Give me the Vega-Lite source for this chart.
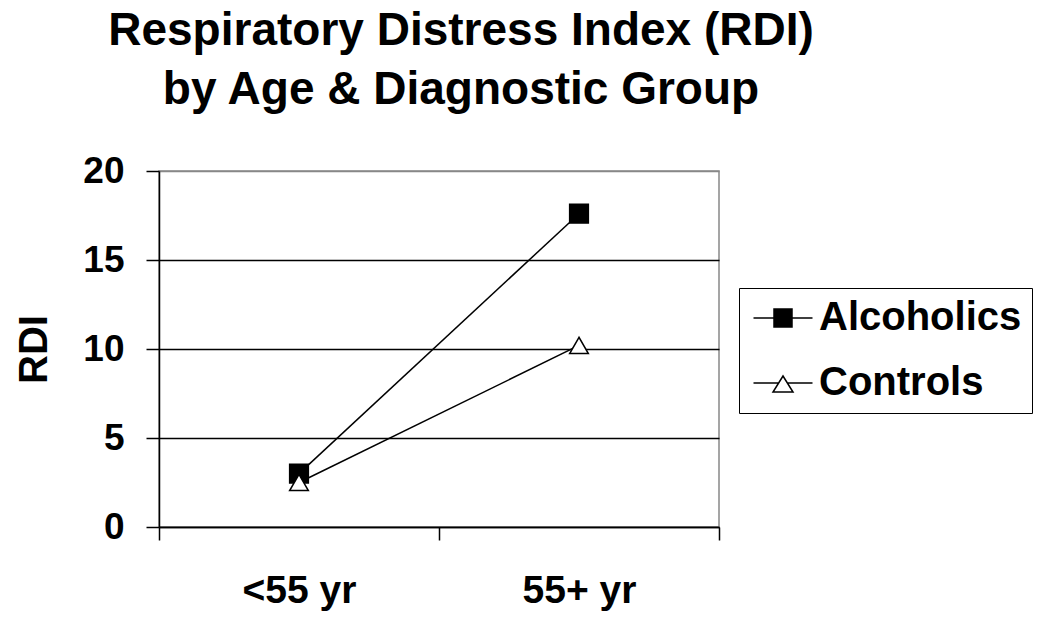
{
  "$schema": "https://vega.github.io/schema/vega-lite/v6.json",
  "width": 560,
  "height": 356,
  "autosize": {"type": "none"},
  "padding": {"left": 159, "top": 171, "right": 331, "bottom": 97},
  "background": "white",
  "title": {
    "text": ["Respiratory Distress Index (RDI)", "by Age & Diagnostic Group"],
    "anchor": "middle",
    "frame": "group",
    "font": "Liberation Sans",
    "fontSize": 46,
    "fontWeight": "bold",
    "lineHeight": 59,
    "color": "black",
    "dx": 22,
    "offset": 38
  },
  "config": {
    "view": {"stroke": "#888", "strokeWidth": 1.5},
    "font": "Liberation Sans"
  },
  "data": {
    "values": [
      {"age": "<55 yr", "group": "Alcoholics", "rdi": 3.0},
      {"age": "55+ yr", "group": "Alcoholics", "rdi": 17.6},
      {"age": "<55 yr", "group": "Controls", "rdi": 2.5},
      {"age": "55+ yr", "group": "Controls", "rdi": 10.2}
    ]
  },
  "encoding": {
    "x": {
      "field": "age",
      "type": "nominal",
      "sort": ["<55 yr", "55+ yr"],
      "scale": {"type": "band", "paddingInner": 0, "paddingOuter": 0},
      "axis": {
        "title": null,
        "labelAngle": 0,
        "tickBand": "extent",
        "tickSize": 13,
        "tickWidth": 1.5,
        "tickColor": "black",
        "domainColor": "black",
        "domainWidth": 1.5,
        "labelFont": "Liberation Sans",
        "labelFontSize": 39,
        "labelFontWeight": "bold",
        "labelColor": "black",
        "labelPadding": 31,
        "grid": false
      }
    },
    "y": {
      "field": "rdi",
      "type": "quantitative",
      "scale": {"domain": [0, 20], "nice": false},
      "axis": {
        "title": "RDI",
        "values": [0, 5, 10, 15, 20],
        "tickSize": 13,
        "tickWidth": 1.5,
        "tickColor": "black",
        "domainColor": "black",
        "domainWidth": 1.5,
        "labelFont": "Liberation Sans",
        "labelFontSize": 37,
        "labelFontWeight": "bold",
        "labelColor": "black",
        "labelPadding": 22,
        "titleFont": "Liberation Sans",
        "titleFontSize": 40,
        "titleFontWeight": "bold",
        "titleColor": "black",
        "titlePadding": 28,
        "grid": true,
        "gridColor": {"condition": {"test": "datum.value === 20", "value": "#888"}, "value": "black"},
        "gridWidth": 1.3
      }
    }
  },
  "resolve": {"scale": {"shape": "independent", "fill": "independent", "stroke": "independent"}},
  "layer": [
    {
      "mark": {"type": "line", "color": "black", "strokeWidth": 1.5},
      "encoding": {"detail": {"field": "group", "type": "nominal"}}
    },
    {
      "mark": {"type": "point", "strokeWidth": 1.5, "stroke": "black", "opacity": 1},
      "encoding": {
        "shape": {
          "field": "group",
          "type": "nominal",
          "scale": {"domain": ["Alcoholics", "Controls"], "range": ["square", "triangle-up"]},
          "legend": null
        },
        "fill": {
          "field": "group",
          "type": "nominal",
          "scale": {"domain": ["Alcoholics", "Controls"], "range": ["black", "white"]},
          "legend": null
        },
        "size": {"value": 350}
      }
    },
    {
      "mark": {"type": "point", "strokeWidth": 1.5, "opacity": 0},
      "encoding": {
        "shape": {
          "field": "group",
          "type": "nominal",
          "scale": {
            "domain": ["Alcoholics", "Controls"],
            "range": [
              "M-1.55,0H4.35M0.5,-0.9H2.3V0.9H0.5Z",
              "M-1.55,0H0.96M1.84,0H4.35M1.4,-0.7L2.4,0.9L0.4,0.9Z"
            ]
          },
          "legend": {
            "title": null,
            "orient": "none",
            "legendX": 580,
            "legendY": 117,
            "labelFont": "Liberation Sans",
            "labelFontSize": 40,
            "labelFontWeight": "bold",
            "labelColor": "black",
            "labelLimit": 400,
            "labelOffset": 30,
            "symbolSize": 400,
            "symbolOpacity": 1,
            "symbolStrokeWidth": 1.5,
            "rowPadding": 25,
            "padding": 10,
            "strokeColor": "black"
          }
        },
        "fill": {
          "field": "group",
          "type": "nominal",
          "scale": {"domain": ["Alcoholics", "Controls"], "range": ["black", "white"]}
        },
        "stroke": {
          "field": "group",
          "type": "nominal",
          "scale": {"domain": ["Alcoholics", "Controls"], "range": ["black", "black"]}
        },
        "size": {"value": 400}
      }
    }
  ]
}
